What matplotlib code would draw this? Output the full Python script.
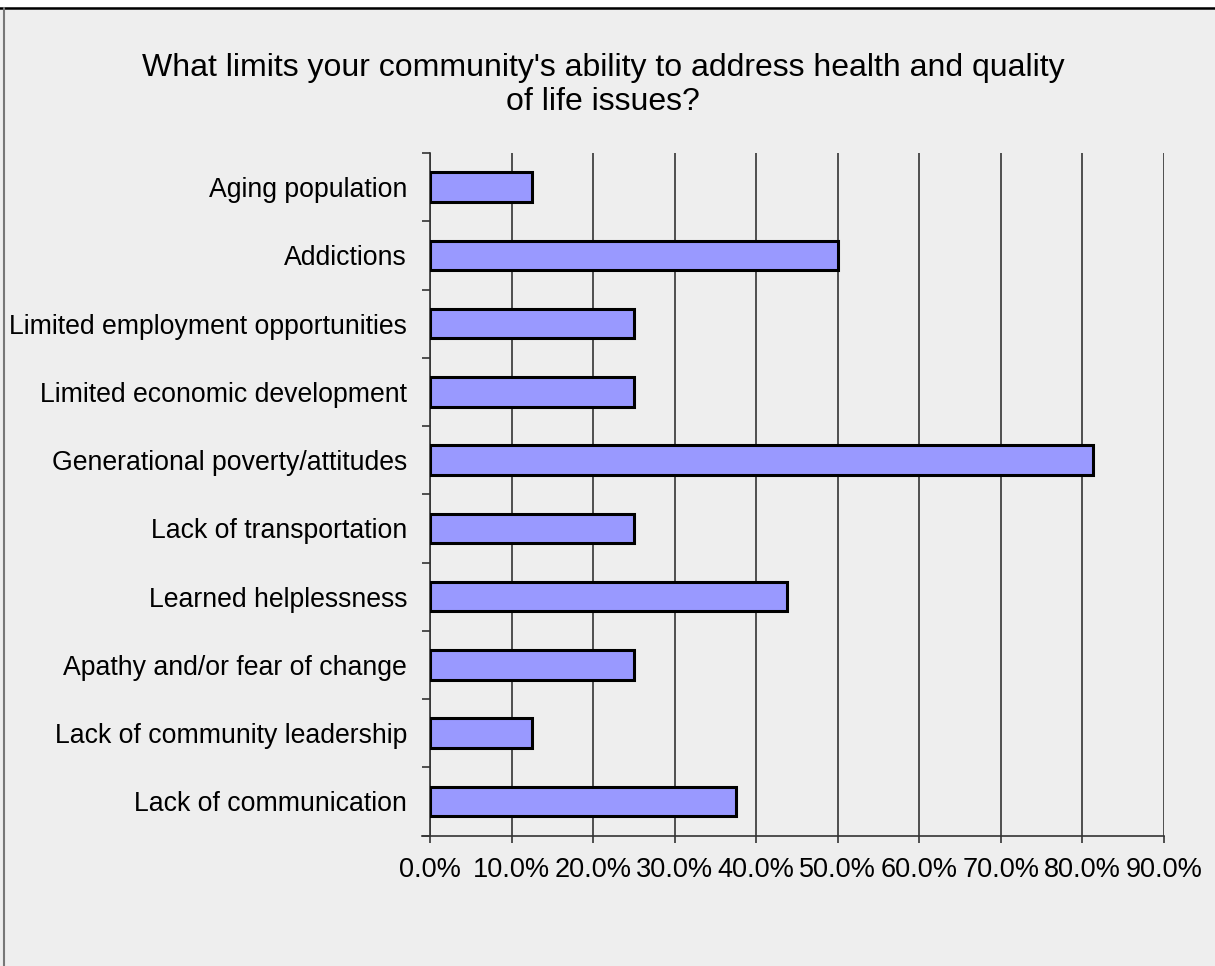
import matplotlib
matplotlib.use("Agg")
import matplotlib.pyplot as plt
from matplotlib.lines import Line2D
from matplotlib.ticker import FixedLocator, PercentFormatter

categories = [
    "Aging population",
    "Addictions",
    "Limited employment opportunities",
    "Limited economic development",
    "Generational poverty/attitudes",
    "Lack of transportation",
    "Learned helplessness",
    "Apathy and/or fear of change",
    "Lack of community leadership",
    "Lack of communication",
]
values = [12.5, 50.0, 25.0, 25.0, 81.25, 25.0, 43.75, 25.0, 12.5, 37.5]
x_ticks = [0, 10, 20, 30, 40, 50, 60, 70, 80, 90]
title = "What limits your community's ability to address health and quality\nof life issues?"

bg = "#eeeeee"
fig = plt.figure(figsize=(12.15, 9.66), dpi=100, facecolor=bg)
W, H = 1215, 966
ax = fig.add_axes([430 / W, 1 - 835.5 / H, (1164 - 430) / W, (835.5 - 153) / H])
ax.set_facecolor(bg)

n = len(categories)
ypos = list(range(n))
ax.barh(ypos, values, height=0.43, color="#9999ff", edgecolor="black",
        linewidth=2.2, zorder=3)
ax.set_ylim(n - 0.5, -0.5)

ax.xaxis.set_major_locator(FixedLocator(x_ticks))
ax.xaxis.set_major_formatter(PercentFormatter(decimals=1))
ax.grid(axis="x", color="#333333", linewidth=1.2, zorder=1)

ax.set_yticks(ypos)
ax.set_yticklabels(categories, fontname="Liberation Sans", fontsize=19.2)
ax.set_yticks([i - 0.5 for i in range(n + 1)], minor=True)
ax.tick_params(axis="y", which="major", length=0, pad=16.5)
ax.tick_params(axis="y", which="minor", length=6, width=1.2, color="#333333")
ax.tick_params(axis="x", length=5.2, width=1.2, color="#333333", pad=10,
               labelsize=19.5)
for lab in ax.get_xticklabels():
    lab.set_fontname("Liberation Sans")

for side in ("top", "right"):
    ax.spines[side].set_visible(False)
for side in ("left", "bottom"):
    ax.spines[side].set_color("#333333")
    ax.spines[side].set_linewidth(1.2)
ax.spines["bottom"].set_bounds(-1.0, 90)
ax.set_xlim(0, 90)

fig.text(603 / W, 1 - 109.5 / H, title, ha="center", va="baseline",
         fontname="Liberation Sans", fontsize=23, linespacing=1.15)

# outer frame: white strip on top, black top rule, grey left rule
fig.patches.append(plt.Rectangle((0, 1 - 7 / H), 1, 7 / H, transform=fig.transFigure,
                                 facecolor="white", edgecolor="none", zorder=0))
fig.lines.append(Line2D([0, 1], [1 - 7.5 / H, 1 - 7.5 / H], transform=fig.transFigure,
                        color="black", linewidth=1.8))
fig.lines.append(Line2D([3.5 / W, 3.5 / W], [0, 1 - 7.5 / H], transform=fig.transFigure,
                        color="#777777", linewidth=1.5))

fig.savefig("out.png", dpi=100, facecolor=bg)
